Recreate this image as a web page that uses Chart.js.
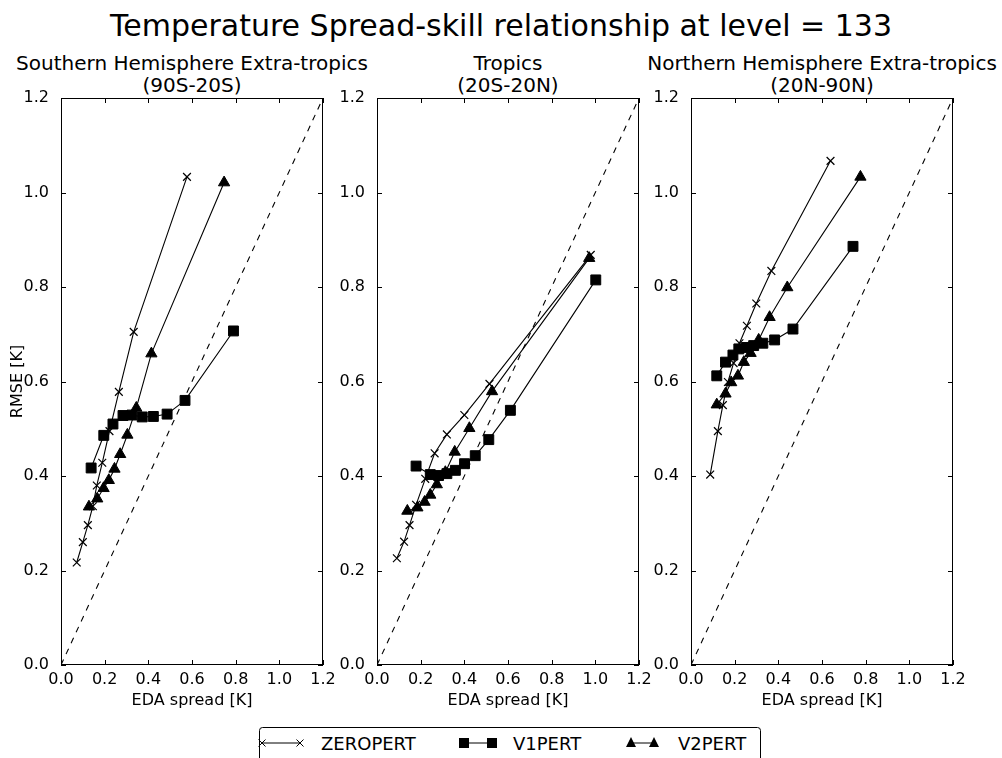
<!DOCTYPE html>
<html>
<head>
<meta charset="utf-8">
<script src="https://cdn.jsdelivr.net/npm/chart.js@4.4.1/dist/chart.umd.min.js"></script>
<style>
  body { margin: 0; background: #fff; width: 1002px; height: 758px; overflow: hidden; position: relative; font-family: "DejaVu Sans", sans-serif; color: #000; }
  #suptitle { position: absolute; left: 0; top: 8px; width: 1002px; text-align: center; font-size: 30px; line-height: 36px; }
  .subtitle { position: absolute; top: 52px; width: 420px; text-align: center; font-size: 20px; line-height: 22px; white-space: nowrap; }
  canvas { position: absolute; top: 40px; }
  #legend { position: absolute; left: 258px; top: 726px; }
</style>
</head>
<body>
<div id="suptitle">Temperature Spread-skill relationship at level = 133</div>
<div class="subtitle" style="left:-18px">Southern Hemisphere Extra-tropics<br>(90S-20S)</div>
<div class="subtitle" style="left:298px">Tropics<br>(20S-20N)</div>
<div class="subtitle" style="left:612px">Northern Hemisphere Extra-tropics<br>(20N-90N)</div>
<canvas id="sh" width="345" height="680" style="left:0px"></canvas>
<canvas id="tr" width="345" height="680" style="left:316px"></canvas>
<canvas id="nh" width="345" height="680" style="left:630px"></canvas>

<svg id="legend" width="506" height="34">
  <rect x="1.5" y="1.5" width="501" height="50" rx="3" fill="#fff" stroke="#000"/>
  <line x1="4" y1="17" x2="42" y2="17" stroke="#000"/>
  <path d="M0.5 13.5 L7.5 20.5 M0.5 20.5 L7.5 13.5 M38.5 13.5 L45.5 20.5 M38.5 20.5 L45.5 13.5" stroke="#000" fill="none"/>
  <text x="63" y="17" dominant-baseline="central" font-family="DejaVu Sans" font-size="18">ZEROPERT</text>
  <line x1="206" y1="17" x2="234" y2="17" stroke="#000"/>
  <rect x="201" y="12" width="10" height="10" fill="#000"/>
  <rect x="229" y="12" width="10" height="10" fill="#000"/>
  <text x="255" y="17" dominant-baseline="central" font-family="DejaVu Sans" font-size="18">V1PERT</text>
  <line x1="373" y1="17" x2="396" y2="17" stroke="#000"/>
  <path d="M373 11 L378 21 L368 21 Z M396 11 L401 21 L391 21 Z" fill="#000"/>
  <text x="420" y="17" dominant-baseline="central" font-family="DejaVu Sans" font-size="18">V2PERT</text>
</svg>

<script>
// EDA spread (x) and RMSE (y)
const shSpreadZero = [0.072, 0.100, 0.123, 0.146, 0.164, 0.189, 0.222, 0.265, 0.333, 0.577];
const shRmseZero   = [0.217, 0.260, 0.296, 0.336, 0.380, 0.428, 0.495, 0.578, 0.705, 1.033];
const shSpreadV1   = [0.138, 0.196, 0.238, 0.284, 0.325, 0.372, 0.423, 0.486, 0.568, 0.790];
const shRmseV1     = [0.417, 0.486, 0.510, 0.528, 0.529, 0.525, 0.526, 0.531, 0.560, 0.707];
const shSpreadV2   = [0.128, 0.166, 0.195, 0.219, 0.245, 0.271, 0.304, 0.345, 0.414, 0.747];
const shRmseV2     = [0.335, 0.352, 0.374, 0.391, 0.415, 0.446, 0.487, 0.544, 0.659, 1.021];

const trSpreadZero = [0.091, 0.124, 0.149, 0.179, 0.221, 0.264, 0.320, 0.400, 0.515, 0.979];
const trRmseZero   = [0.226, 0.261, 0.296, 0.339, 0.394, 0.448, 0.488, 0.529, 0.595, 0.868];
const trSpreadV1   = [0.179, 0.244, 0.282, 0.320, 0.359, 0.401, 0.450, 0.512, 0.611, 1.002];
const trRmseV1     = [0.421, 0.403, 0.401, 0.405, 0.412, 0.426, 0.443, 0.477, 0.539, 0.815];
const trSpreadV2   = [0.139, 0.185, 0.218, 0.244, 0.274, 0.313, 0.356, 0.423, 0.527, 0.972];
const trRmseV2     = [0.326, 0.333, 0.345, 0.360, 0.382, 0.408, 0.451, 0.501, 0.579, 0.861];

const nhSpreadZero = [0.088, 0.123, 0.146, 0.169, 0.195, 0.222, 0.256, 0.299, 0.368, 0.639];
const nhRmseZero   = [0.403, 0.495, 0.550, 0.599, 0.639, 0.681, 0.718, 0.765, 0.834, 1.067];
const nhSpreadV1   = [0.118, 0.158, 0.192, 0.219, 0.253, 0.287, 0.329, 0.383, 0.467, 0.742];
const nhRmseV1     = [0.612, 0.641, 0.656, 0.669, 0.672, 0.676, 0.681, 0.688, 0.711, 0.886];
const nhSpreadV2   = [0.118, 0.158, 0.184, 0.215, 0.242, 0.273, 0.310, 0.360, 0.441, 0.776];
const nhRmseV2     = [0.551, 0.574, 0.598, 0.612, 0.641, 0.660, 0.688, 0.736, 0.799, 1.033];

// 1:1 reference line
const oneToOne = [0, 1.2];

const font = 'DejaVu Sans';

function pts(xs, ys) {
  return xs.map((v, i) => ({ x: v, y: ys[i] }));
}

// matplotlib style box with inward ticks on all sides
const framePlugin = {
  id: 'frame',
  afterDatasetsDraw(chart) {
    const { ctx, chartArea: a, scales: { x, y } } = chart;
    ctx.save();
    ctx.strokeStyle = '#000';
    ctx.lineWidth = 1;
    ctx.beginPath();
    x.ticks.forEach(t => {
      const px = Math.round(x.getPixelForValue(t.value)) + 0.5;
      ctx.moveTo(px, a.bottom); ctx.lineTo(px, a.bottom - 5);
      ctx.moveTo(px, a.top); ctx.lineTo(px, a.top + 5);
    });
    y.ticks.forEach(t => {
      const py = Math.round(y.getPixelForValue(t.value)) + 0.5;
      ctx.moveTo(a.left, py); ctx.lineTo(a.left + 5, py);
      ctx.moveTo(a.right, py); ctx.lineTo(a.right - 5, py);
    });
    ctx.stroke();
    ctx.strokeRect(Math.round(a.left) + 0.5, Math.round(a.top) + 0.5, Math.round(a.width) - 1, Math.round(a.height) - 1);
    ctx.restore();
  }
};

function series(label, data, style, radius, bw) {
  return {
    label, data, showLine: true,
    borderColor: '#000', borderWidth: 1.1,
    pointStyle: style, pointRadius: radius,
    pointBackgroundColor: '#000', pointBorderColor: '#000', pointBorderWidth: bw,
    clip: false
  };
}

function makePanel(id, zero, v1, v2, showYTitle) {
  new Chart(document.getElementById(id), {
    type: 'scatter',
    data: {
      datasets: [
        series('ZEROPERT', zero, 'crossRot', 5.5, 1.2),
        series('V1PERT', v1, 'rect', 7, 1),
        series('V2PERT', v2, 'triangle', 6.5, 1),
        {
          label: '1:1', data: pts(oneToOne, oneToOne), showLine: true,
          borderColor: '#000', borderWidth: 1.1, borderDash: [6, 6], pointRadius: 0
        }
      ]
    },
    options: {
      responsive: false,
      animation: false,
      layout: { padding: { left: 0, right: 22, top: 58, bottom: 0 } },
      plugins: { legend: { display: false }, tooltip: { enabled: false } },
      scales: {
        x: {
          type: 'linear', min: 0, max: 1.2,
          grid: { display: false }, border: { display: false },
          ticks: { stepSize: 0.2, color: '#000', font: { family: font, size: 16 }, padding: -3, maxRotation: 0, autoSkip: false,
                   callback: v => v.toFixed(1) },
          title: { display: true, text: 'EDA spread [K]', color: '#000', font: { family: font, size: 16 }, padding: { top: 0, bottom: 10 } },
          afterFit: s => { s.height = 55; }
        },
        y: {
          type: 'linear', min: 0, max: 1.2,
          grid: { display: false }, border: { display: false },
          ticks: { stepSize: 0.2, color: '#000', font: { family: font, size: 16 }, padding: 4, autoSkip: false,
                   callback: v => v.toFixed(1) },
          title: { display: showYTitle, text: 'RMSE [K]', color: '#000', font: { family: font, size: 16 }, padding: { top: 8, bottom: 0 } },
          afterFit: s => { s.width = 61; }
        }
      }
    },
    plugins: [framePlugin]
  });
}

makePanel('sh', pts(shSpreadZero, shRmseZero), pts(shSpreadV1, shRmseV1), pts(shSpreadV2, shRmseV2), true);
makePanel('tr', pts(trSpreadZero, trRmseZero), pts(trSpreadV1, trRmseV1), pts(trSpreadV2, trRmseV2), false);
makePanel('nh', pts(nhSpreadZero, nhRmseZero), pts(nhSpreadV1, nhRmseV1), pts(nhSpreadV2, nhRmseV2), false);
</script>
</body>
</html>
